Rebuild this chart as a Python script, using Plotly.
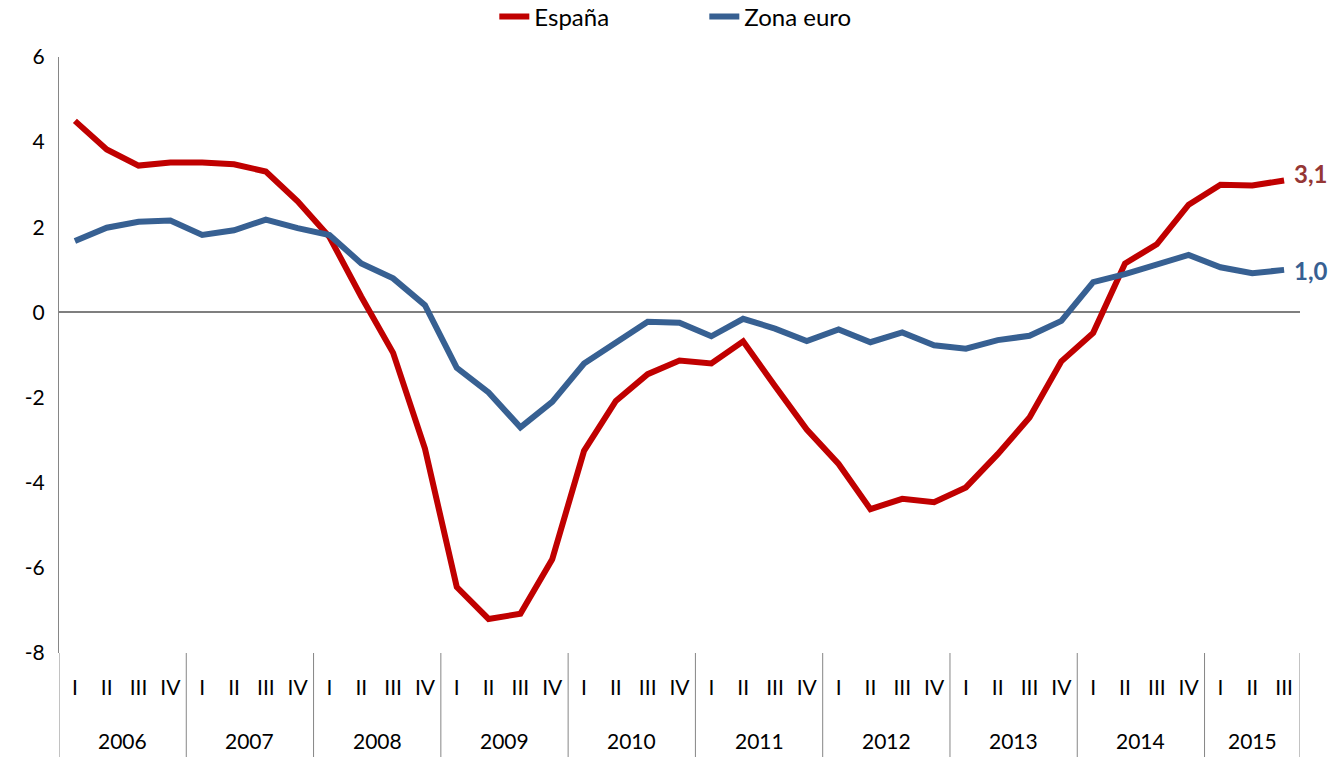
import plotly.graph_objects as go

# ---- data ----
years = ["2006", "2007", "2008", "2009", "2010", "2011", "2012", "2013", "2014", "2015"]
quarters_per_year = [4, 4, 4, 4, 4, 4, 4, 4, 4, 3]
quarter_names = ["I", "II", "III", "IV"]

espana = [4.5, 3.83, 3.45, 3.52,
          3.52, 3.48, 3.31, 2.61,
          1.77, 0.37, -0.95, -3.2,
          -6.45, -7.2, -7.08, -5.8,
          -3.25, -2.08, -1.45, -1.13,
          -1.2, -0.68, -1.73, -2.75,
          -3.56, -4.62, -4.38, -4.46,
          -4.11, -3.33, -2.47, -1.15,
          -0.48, 1.15, 1.6, 2.53,
          3.0, 2.98, 3.1]

zona_euro = [1.68, 1.99, 2.13, 2.16,
             1.82, 1.93, 2.18, 1.98,
             1.82, 1.15, 0.8, 0.17,
             -1.3, -1.88, -2.7, -2.1,
             -1.2, -0.72, -0.22, -0.24,
             -0.56, -0.15, -0.38, -0.67,
             -0.4, -0.7, -0.47, -0.77,
             -0.85, -0.65, -0.55, -0.2,
             0.71, 0.9, 1.13, 1.35,
             1.06, 0.92, 1.0]

series_names = ["España", "Zona euro"]
series_colors = ["#C00000", "#376092"]
label_colors = ["#953735", "#376092"]
label_yshift = [7, -1]
y_ticks = [-8, -6, -4, -2, 0, 2, 4, 6]

# ---- derived ----
quarter_labels = []
for n in quarters_per_year:
    quarter_labels += quarter_names[:n]
x = list(range(len(quarter_labels)))

FONT = "Lato"

fig = go.Figure()
for name, vals, col in zip(series_names, [espana, zona_euro], series_colors):
    fig.add_trace(go.Scatter(x=x, y=vals, mode="lines", name=name,
                             line=dict(color=col, width=6)))

# end-value labels
for vals, col, ys in zip([espana, zona_euro], label_colors, label_yshift):
    fig.add_annotation(x=x[-1], y=vals[-1], xref="x", yref="y",
                       text="<b>" + f"{vals[-1]:.1f}".replace(".", ",") + "</b>",
                       showarrow=False, xanchor="left", xshift=8, yshift=ys,
                       font=dict(family=FONT, size=24, color=col))

# year labels and dividers
start = 0
plot_h = 757 - 57 - 104
for yr, n in zip(years, quarters_per_year):
    fig.add_shape(type="line", xref="x", yref="paper",
                  x0=start - 0.5, x1=start - 0.5, y0=0, y1=-104 / plot_h,
                  line=dict(color="#868686", width=1))
    fig.add_annotation(x=start + (n - 1) / 2, y=-87 / plot_h, xref="x", yref="paper",
                       text=yr, showarrow=False, yanchor="middle",
                       font=dict(family=FONT, size=21, color="#000"))
    start += n
fig.add_shape(type="line", xref="x", yref="paper",
              x0=start - 0.5, x1=start - 0.5, y0=0, y1=-104 / plot_h,
              line=dict(color="#868686", width=1))

fig.update_layout(
    width=1336, height=757,
    margin=dict(l=59, r=36, t=57, b=104, autoexpand=False),
    paper_bgcolor="white", plot_bgcolor="white",
    font=dict(family=FONT, size=21, color="#000"),
    showlegend=True,
    legend=dict(orientation="h", x=0.52, xanchor="center", yref="paper",
                y=1 + (57 - 17) / plot_h, yanchor="middle",
                font=dict(family=FONT, size=24),
                itemwidth=30, entrywidth=165, traceorder="normal"),
)
fig.update_xaxes(range=[-0.5, len(x) - 0.5], tickmode="array", tickvals=x,
                 ticktext=quarter_labels, showgrid=False, zeroline=False,
                 showline=False, ticks="", ticklabelstandoff=20, automargin=False,
                 tickfont=dict(family=FONT, size=21))
fig.update_yaxes(range=[-8, 6], tickmode="array", tickvals=y_ticks,
                 ticktext=[str(v) for v in y_ticks], showgrid=False,
                 zeroline=True, zerolinecolor="#7f7f7f", zerolinewidth=1.5,
                 showline=True, linecolor="#868686", linewidth=1,
                 ticks="", ticklabelstandoff=9, automargin=False,
                 tickfont=dict(family=FONT, size=21))

fig.write_html("out.html", config={"displayModeBar": False},
               post_script="document.body.style.margin='0';document.body.style.overflow='hidden';")
